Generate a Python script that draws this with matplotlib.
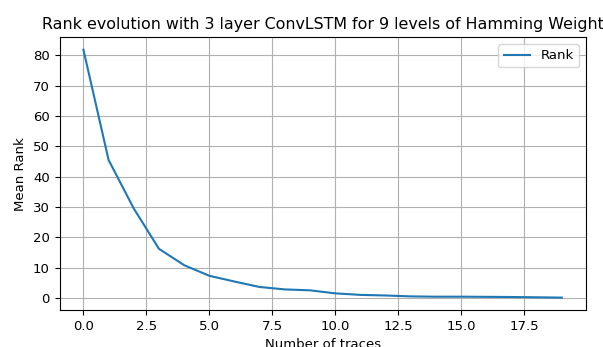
import matplotlib
matplotlib.use("Agg")
import matplotlib.pyplot as plt

traces = list(range(20))
rank = [81.9, 45.5, 29.5, 16.2, 10.8, 7.3, 5.4, 3.6, 2.8, 2.5, 1.5, 1.0, 0.8, 0.5, 0.4, 0.4, 0.35, 0.3, 0.2, 0.1]

fig = plt.figure(figsize=(6.03, 3.47), dpi=100)
ax = fig.add_axes([59.5/603, 1-310/347, (585.7-59.5)/603, (310-37.3)/347])
ax.plot(traces, rank, label="Rank")
ax.set_title("Rank evolution with 3 layer ConvLSTM for 9 levels of Hamming Weight", fontsize=11.4)
ax.set_xlabel("Number of traces", fontsize=9.5)
ax.set_ylabel("Mean Rank", fontsize=9.5)
ax.tick_params(labelsize=9.5)
ax.grid(True)
ax.legend(loc="upper right", fontsize=9.5)
fig.savefig("out.png", dpi=100)
